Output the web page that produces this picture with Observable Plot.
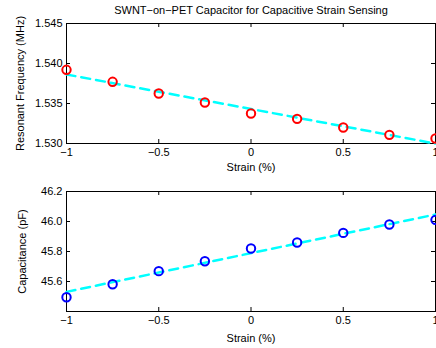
<!DOCTYPE html>
<html>
<head>
<meta charset="utf-8">
<script src="https://cdn.jsdelivr.net/npm/d3@7"></script>
<script src="https://cdn.jsdelivr.net/npm/@observablehq/plot@0.6"></script>
<style>
  html, body { margin: 0; padding: 0; background: #fff; }
  #wrap { position: relative; width: 436px; height: 348px; overflow: hidden; }
  #wrap svg { position: absolute; left: 0; }
</style>
</head>
<body>
<div id="wrap"></div>
<script>
const strain = [-1, -0.75, -0.5, -0.25, 0, 0.25, 0.5, 0.75, 1];
const freq = [1.53921, 1.53771, 1.53625, 1.53512, 1.53375, 1.53308, 1.53200, 1.53108, 1.53063];
const cap = [45.495, 45.582, 45.669, 45.735, 45.820, 45.860, 45.924, 45.980, 46.011];
const fitStrain = [-1, 1];
const freqFit = [1.53863, 1.52999];
const capFit = [45.531, 46.047];
const xTicks = [-1, -0.5, 0, 0.5, 1];
const freqTicks = [1.530, 1.535, 1.540, 1.545];
const capTicks = [45.6, 45.8, 46.0, 46.2];
const titleText = "SWNT\u2212on\u2212PET Capacitor for Capacitive Strain Sensing";

const font = "'Liberation Sans', Arial, Helvetica, sans-serif";

function makePanel({values, fit, yDomain, yTicks, yFormat, color, yLabel, height, marginTop, marginBottom, xLabelDy, yLabelDx, chartTitle}) {
  const width = 436, marginLeft = 66, marginRight = 1;
  const innerW = width - marginLeft - marginRight;
  const innerH = height - marginTop - marginBottom;
  const pts = strain.map((s, i) => ({s, v: values[i]}));
  const fitPts = fitStrain.map((s, i) => ({s, v: fit[i]}));
  const marks = [
    Plot.frame({stroke: "#000", strokeWidth: 1}),
    Plot.tickX(xTicks, {x: d => d, stroke: "#000", insetTop: innerH - 4}),
    Plot.tickX(xTicks, {x: d => d, stroke: "#000", insetBottom: innerH - 4}),
    Plot.tickY(yTicks, {y: d => d, stroke: "#000", insetRight: innerW - 4}),
    Plot.tickY(yTicks, {y: d => d, stroke: "#000", insetLeft: innerW - 4}),
    Plot.axisX({ticks: xTicks, tickSize: 0, tickPadding: 5, tickFormat: d3.format("~g"), label: null, fontSize: 11, fill: "#000"}),
    Plot.axisY({ticks: yTicks, tickSize: 0, tickPadding: 4, tickFormat: d3.format(yFormat), label: null, fontSize: 11, fill: "#000"}),
    Plot.line(fitPts, {x: "s", y: "v", stroke: "#00ffff", strokeWidth: 2.5, strokeDasharray: "9,6"}),
    Plot.dot(pts, {x: "s", y: "v", r: 4.2, stroke: color, strokeWidth: 2, fill: "none"}),
    Plot.text([yLabel], {frameAnchor: "left", dx: yLabelDx, rotate: -90, textAnchor: "middle", fontSize: 11, fill: "#000"}),
    Plot.text(["Strain (%)"], {frameAnchor: "bottom", dy: xLabelDy, lineAnchor: "middle", fontSize: 11, fill: "#000"})
  ];
  if (chartTitle) {
    marks.push(Plot.text([chartTitle], {frameAnchor: "top", dy: -13, lineAnchor: "middle", fontSize: 11, fill: "#000"}));
  }
  return Plot.plot({
    width, height, marginLeft, marginRight, marginTop, marginBottom,
    style: {fontFamily: font, fontSize: "11px", color: "#000", background: "#fff", overflow: "visible"},
    x: {domain: [-1, 1]},
    y: {domain: yDomain},
    marks
  });
}

const topPanel = makePanel({
  values: freq, fit: freqFit, yDomain: [1.530, 1.545], yTicks: freqTicks, yFormat: ".3f",
  color: "#ff0000", yLabel: "Resonant Frequency (MHz)", height: 175, marginTop: 23, marginBottom: 32,
  xLabelDy: 24, yLabelDx: -46, chartTitle: titleText
});
const bottomPanel = makePanel({
  values: cap, fit: capFit, yDomain: [45.4, 46.2], yTicks: capTicks, yFormat: ".1f",
  color: "#0000ff", yLabel: "Capacitance (pF)", height: 173, marginTop: 16, marginBottom: 37,
  xLabelDy: 27, yLabelDx: -44
});
topPanel.style.top = "0px";
bottomPanel.style.top = "175px";
const wrap = document.getElementById("wrap");
wrap.appendChild(topPanel);
wrap.appendChild(bottomPanel);
</script>
</body>
</html>
